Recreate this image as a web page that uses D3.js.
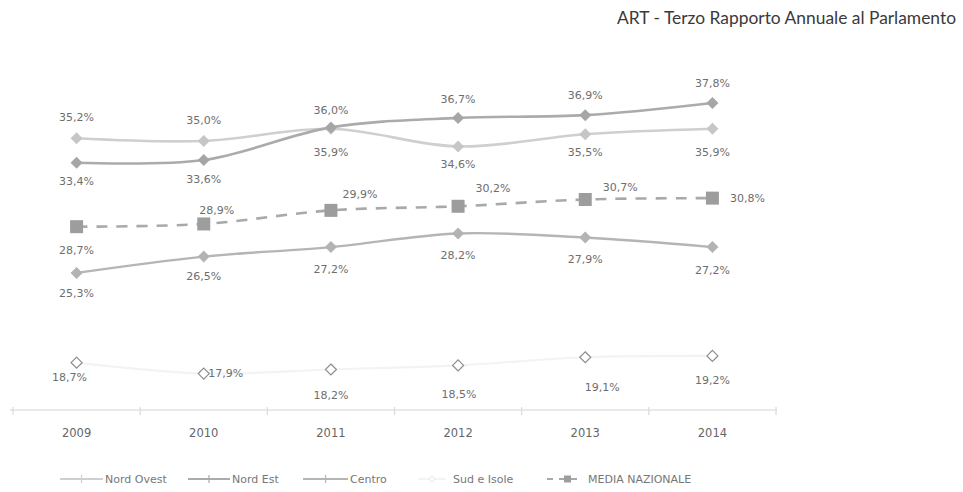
<!DOCTYPE html>
<html>
<head>
<meta charset="utf-8">
<script src="https://cdn.jsdelivr.net/npm/d3@7"></script>
<style>
  html, body { margin: 0; padding: 0; background: #fff; }
  svg { display: block; }
</style>
</head>
<body>
<svg id="chart" width="963" height="492"></svg>
<script>
// ---- data ----
const years = ["2009", "2010", "2011", "2012", "2013", "2014"];
const nordOvest = [35.2, 35.0, 35.9, 34.6, 35.5, 35.9];
const nordEst = [33.4, 33.6, 36.0, 36.7, 36.9, 37.8];
const centro = [25.3, 26.5, 27.2, 28.2, 27.9, 27.2];
const sudIsole = [18.7, 17.9, 18.2, 18.5, 19.1, 19.2];
const mediaNazionale = [28.7, 28.9, 29.9, 30.2, 30.7, 30.8];
const seriesNames = ["Nord Ovest", "Nord Est", "Centro", "Sud e Isole", "MEDIA NAZIONALE"];
const titleText = "ART - Terzo Rapporto Annuale al Parlamento";

// ---- layout / style (kept separate from the data) ----
const labelOffsets = {
  "Nord Ovest":      [[0,-21],[0,-21],[0,23],[0,18],[0,18],[0,23]],
  "Nord Est":        [[0,18],[0,19],[0,-17],[0,-19],[0,-20],[0,-20]],
  "Centro":          [[0,20],[0,20],[0,22],[0,22],[0,22],[0,23]],
  "Sud e Isole":     [[-7,14],[22,0],[0,26],[1,29],[17,30],[0,24]],
  "MEDIA NAZIONALE": [[0,23],[13,-14],[29,-16],[35,-18],[35,-12],[35,0]]
};
const styles = {
  "Nord Ovest":      {line: "#cfcfcf", width: 2.6, marker: "diamond", fill: "#c6c6c6", stroke: "none", dash: null},
  "Nord Est":        {line: "#ababab", width: 2.6, marker: "diamond", fill: "#a6a6a6", stroke: "none", dash: null},
  "Centro":          {line: "#b5b5b5", width: 2.4, marker: "diamond", fill: "#b3b3b3", stroke: "none", dash: null},
  "Sud e Isole":     {line: "#f3f3f3", width: 2.2, marker: "diamond-open", fill: "#fff", stroke: "#8c8c8c", dash: null},
  "MEDIA NAZIONALE": {line: "#a9a9a9", width: 2.6, marker: "square", fill: "#9d9d9d", stroke: "none", dash: "11,9"}
};
const valueMap = {
  "Nord Ovest": nordOvest, "Nord Est": nordEst, "Centro": centro,
  "Sud e Isole": sudIsole, "MEDIA NAZIONALE": mediaNazionale
};
const drawOrder = ["Sud e Isole", "Centro", "MEDIA NAZIONALE", "Nord Ovest", "Nord Est"];

const svg = d3.select("#chart");
const x = d3.scaleBand().domain(years).range([13, 776]);
const cx = d => x(d) + x.bandwidth() / 2;
const y = d3.scaleLinear().domain([15, 40]).range([413, 73]);
const axisY = 410;
const fmt = v => d3.format(".1f")(v).replace(".", ",") + "%";
const labelFont = "'DejaVu Sans', sans-serif";

// title
svg.append("text")
  .attr("x", 956).attr("y", 24)
  .attr("text-anchor", "end")
  .attr("font-family", "Lato, 'Open Sans', sans-serif")
  .attr("font-size", 17.4)
  .attr("fill", "#3a3a3a")
  .text(titleText);

// category axis
const axisG = svg.append("g").attr("transform", `translate(0,${axisY})`);
axisG.append("line").attr("x1", 10).attr("x2", 777).attr("y1", 0).attr("y2", 0)
  .attr("stroke", "#e2e2e2").attr("stroke-width", 1.5);
const bounds = years.map(d => x(d)).concat([x(years[years.length - 1]) + x.bandwidth()]);
axisG.selectAll("line.tick").data(bounds).enter().append("line")
  .attr("class", "tick")
  .attr("x1", d => d).attr("x2", d => d).attr("y1", -3).attr("y2", 5)
  .attr("stroke", "#dadada").attr("stroke-width", 1.2);
axisG.selectAll("text.year").data(years).enter().append("text")
  .attr("class", "year")
  .attr("x", d => cx(d)).attr("y", 27)
  .attr("text-anchor", "middle")
  .attr("font-family", labelFont).attr("font-size", 11.5)
  .attr("fill", "#666").text(d => d);

function markerPath(type, size) {
  if (type === "square") return d3.symbol().type(d3.symbolSquare).size(size * size)();
  const h = size / 2;
  return `M0,${-h}L${h},0L0,${h}L${-h},0Z`;
}

const line = d3.line()
  .x((d, i) => cx(years[i]))
  .y(d => y(d))
  .curve(d3.curveCatmullRom.alpha(0.5));

drawOrder.forEach(name => {
  const vals = valueMap[name];
  const st = styles[name];
  const g = svg.append("g");
  g.append("path").datum(vals)
    .attr("d", line)
    .attr("fill", "none")
    .attr("stroke", st.line)
    .attr("stroke-width", st.width)
    .attr("stroke-dasharray", st.dash)
    .attr("stroke-linecap", "butt");
  const size = st.marker === "square" ? 13 : (st.marker === "diamond-open" ? 11 : 12);
  g.selectAll("path.mk").data(vals).enter().append("path")
    .attr("class", "mk")
    .attr("d", markerPath(st.marker, size))
    .attr("transform", (d, i) => `translate(${cx(years[i])},${y(d)})`)
    .attr("fill", st.fill)
    .attr("stroke", st.stroke)
    .attr("stroke-width", 1.2);
});

// data labels
drawOrder.forEach(name => {
  const vals = valueMap[name];
  const offs = labelOffsets[name];
  svg.append("g").selectAll("text").data(vals).enter().append("text")
    .attr("x", (d, i) => cx(years[i]) + offs[i][0])
    .attr("y", (d, i) => y(d) + offs[i][1])
    .attr("dy", "0.35em")
    .attr("text-anchor", "middle")
    .attr("font-family", labelFont).attr("font-size", 11)
    .attr("fill", "#6e6e6e")
    .text(d => fmt(d));
});

// legend
const legendItems = [
  {name: "Nord Ovest", x1: 60, x2: 103, tx: 105},
  {name: "Nord Est", x1: 188, x2: 230, tx: 232},
  {name: "Centro", x1: 303, x2: 348, tx: 350},
  {name: "Sud e Isole", x1: 418, x2: 446, tx: 453},
  {name: "MEDIA NAZIONALE", x1: 547, x2: 578, tx: 588}
];
const ly = 479;
const lg = svg.append("g");
legendItems.forEach(it => {
  const st = styles[it.name];
  lg.append("line").attr("x1", it.x1).attr("x2", it.x2).attr("y1", ly).attr("y2", ly)
    .attr("stroke", st.line).attr("stroke-width", 2)
    .attr("stroke-dasharray", st.dash ? "6,6" : null);
  const mx = (it.x1 + it.x2) / 2 + (st.dash ? 5 : 0);
  if (st.marker === "square") {
    lg.append("rect").attr("x", mx - 3.5).attr("y", ly - 3.5).attr("width", 7).attr("height", 7)
      .attr("fill", st.fill);
  } else if (st.marker === "diamond-open") {
    lg.append("path").attr("d", markerPath("diamond", 6))
      .attr("transform", `translate(${mx},${ly})`)
      .attr("fill", "#fff").attr("stroke", "#e6e6e6").attr("stroke-width", 1);
  } else {
    lg.append("line").attr("x1", mx).attr("x2", mx).attr("y1", ly - 4).attr("y2", ly + 4)
      .attr("stroke", st.line).attr("stroke-width", 1.2);
  }
  lg.append("text").attr("x", it.tx).attr("y", ly).attr("dy", "0.35em")
    .attr("font-family", labelFont).attr("font-size", 11)
    .attr("fill", "#777").text(it.name);
});
</script>
</body>
</html>
